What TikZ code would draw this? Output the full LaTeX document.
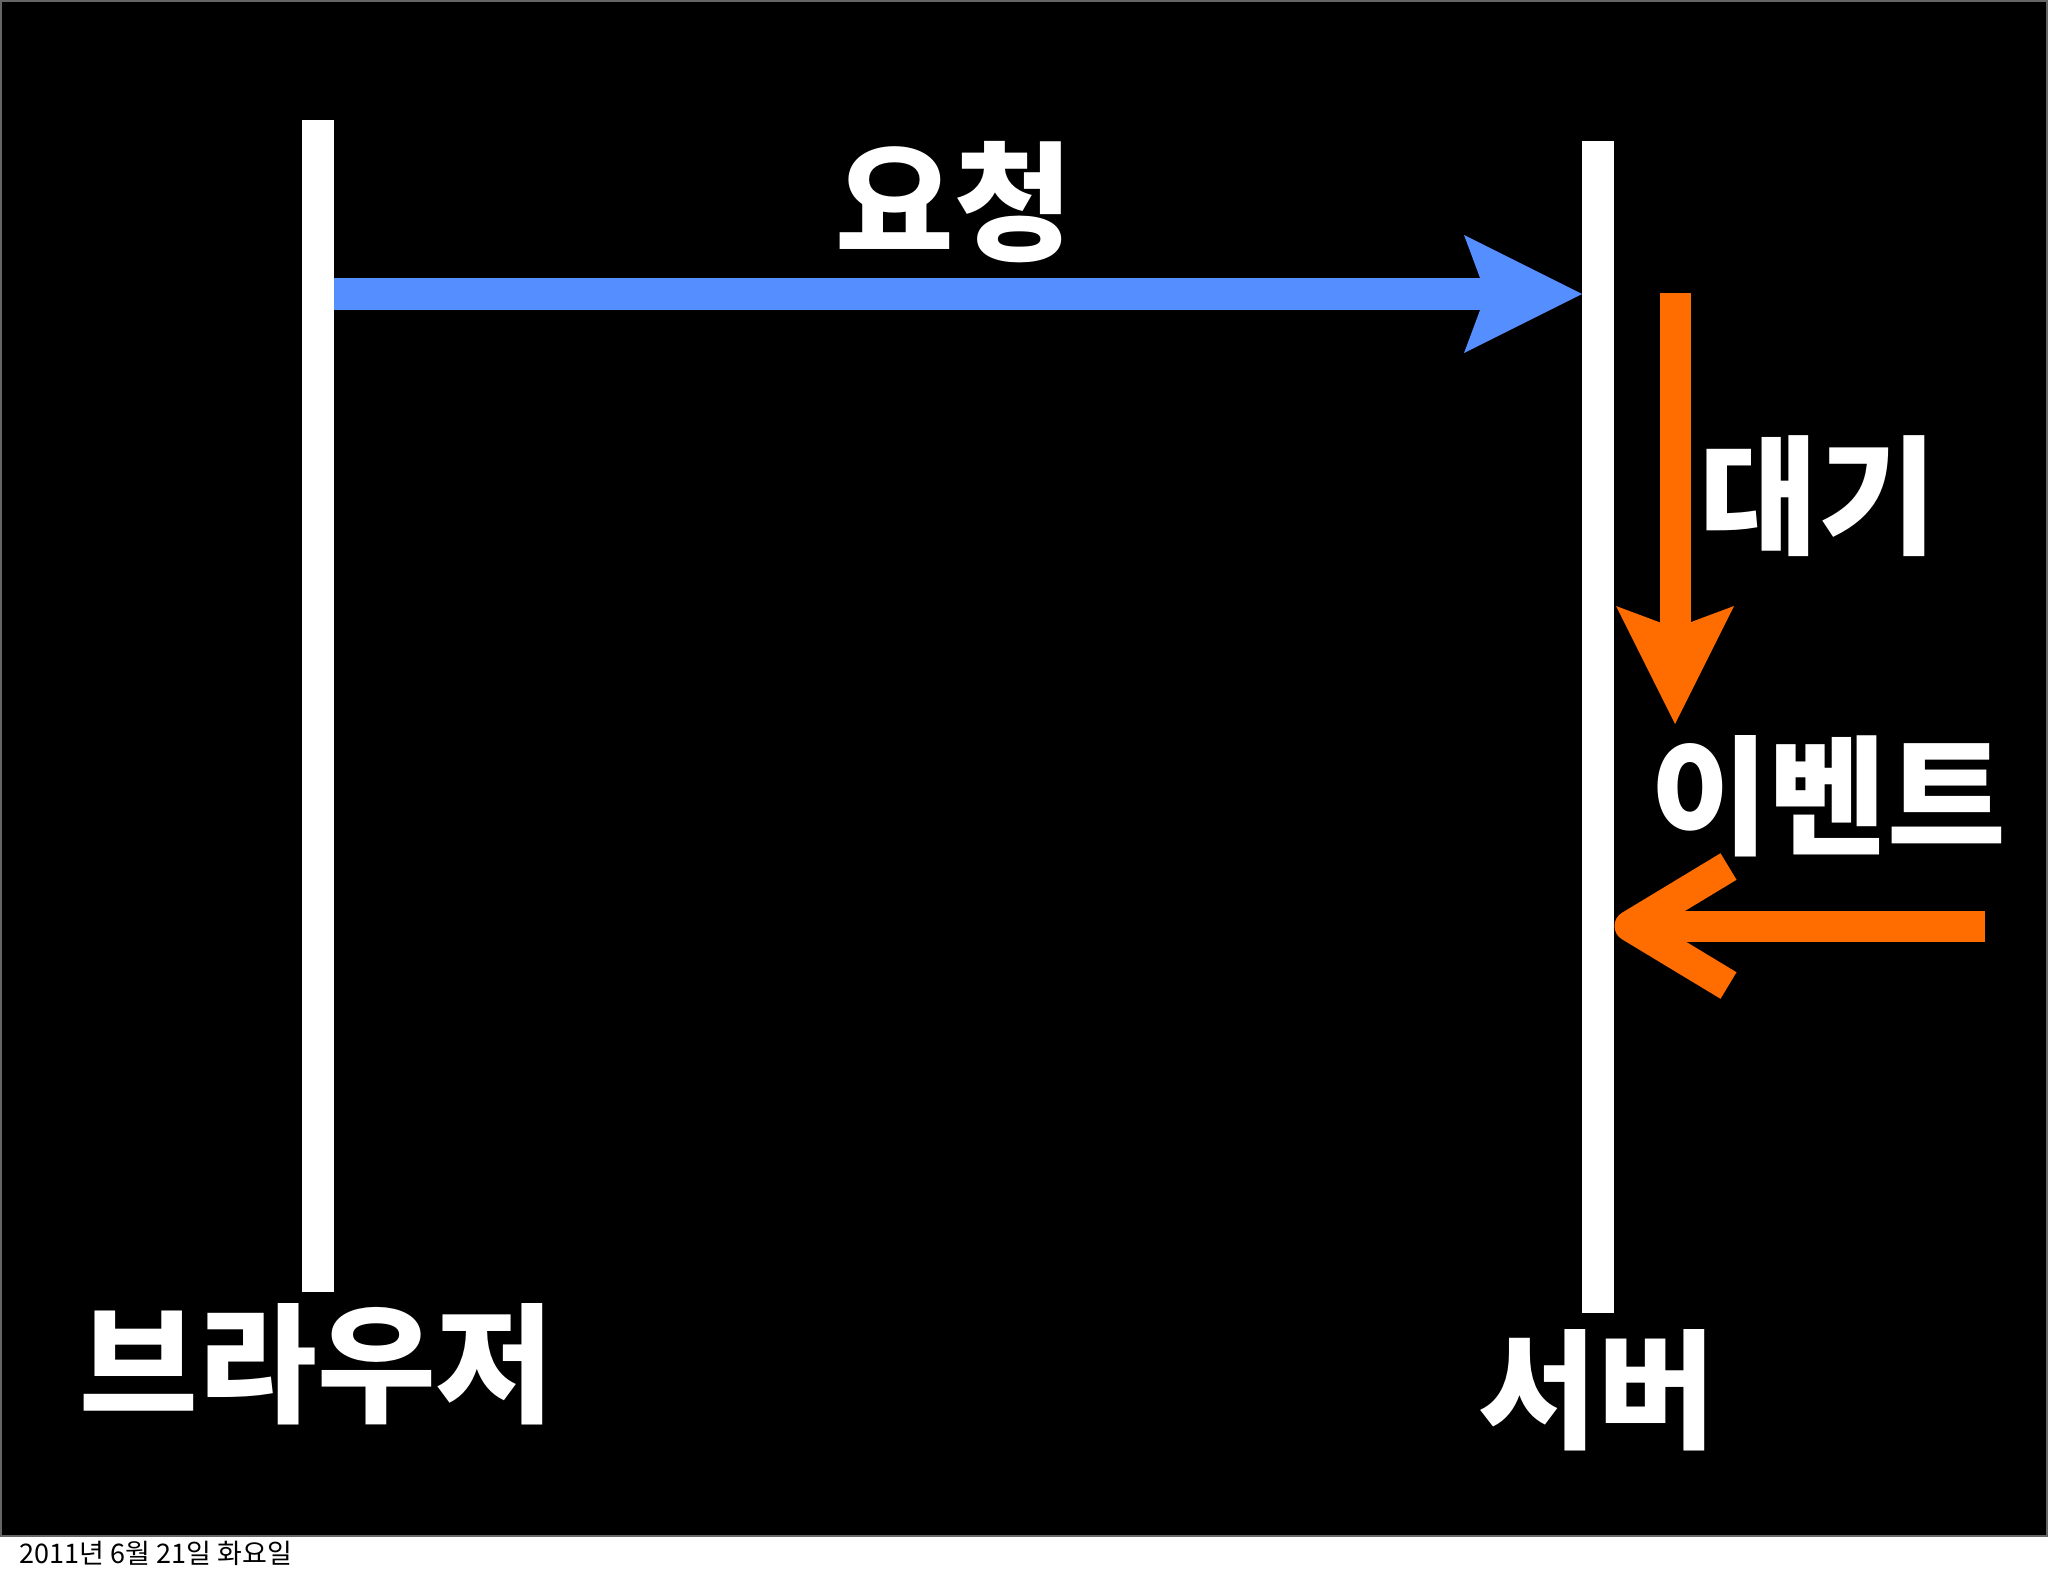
\documentclass[tikz,border=0pt]{standalone}
\usepackage{fontspec}
\newfontfamily\kr{Noto Sans CJK KR}
\usetikzlibrary{arrows.meta,calc}
\definecolor{keyblue}{RGB}{84,142,255}
\definecolor{keyorange}{RGB}{255,108,0}
\begin{document}
\begin{tikzpicture}[x=0.5pt,y=-0.5pt,
  lifeline/.style={fill=white, draw=none, minimum width=16pt, minimum height=586pt, inner sep=0pt, outer sep=0pt},
  big/.style={text=white, inner sep=0pt, outer sep=0pt, font=\kr\bfseries\fontsize{64.5pt}{64.5pt}\selectfont},
  foot/.style={text=black, inner sep=0pt, font=\kr\fontsize{13.5pt}{14pt}\selectfont},
  fatarrow/.style={line width=16pt, -{Stealth[length=59pt,width=59pt,inset=11pt,line width=0pt]}},
  chev/.style={keyorange, line width=15.5pt, line join=round}]
\useasboundingbox (0,0) rectangle (2048,1576);
\fill[white] (0,0) rectangle (2048,1576);
\filldraw[fill=black, draw=black!60, line width=1pt] (1,1) rectangle (2047,1536);
% lifelines
\node[lifeline] (browser) at (318,706) {};
\node[lifeline] (server) at (1598,727) {};
% labels
\node[big] (lreq) at (954,202) {요청};
\node[big] (lwait) at (1818,496) {대기};
\node[big] (levent) at (1828,796) {이벤트};
\node[big] (lbrowser) at (317,1364) {브라우저};
\node[big] (lserver) at (1597,1390) {서버};
\node[foot] (date) at (156,1553) {2011년 6월 21일 화요일};
% request arrow
\coordinate (reqy) at (0,294);
\draw[keyblue, fatarrow] (browser.east |- reqy) -- (server.west |- reqy);
% wait arrow
\coordinate (wtop) at (1675,293);
\coordinate (wtip) at (1675,724);
\draw[keyorange, fatarrow, line width=15.5pt] (wtop) -- (wtip);
% event arrow
\coordinate (estart) at (1985,926);
\coordinate (etip) at ($(server.east |- estart)+(16,0)$);
\draw[chev] (estart) -- (etip);
\draw[chev] ($(etip)+(98.5,-59.5)$) -- (etip) -- ($(etip)+(98.5,59.5)$);
\end{tikzpicture}
\end{document}
